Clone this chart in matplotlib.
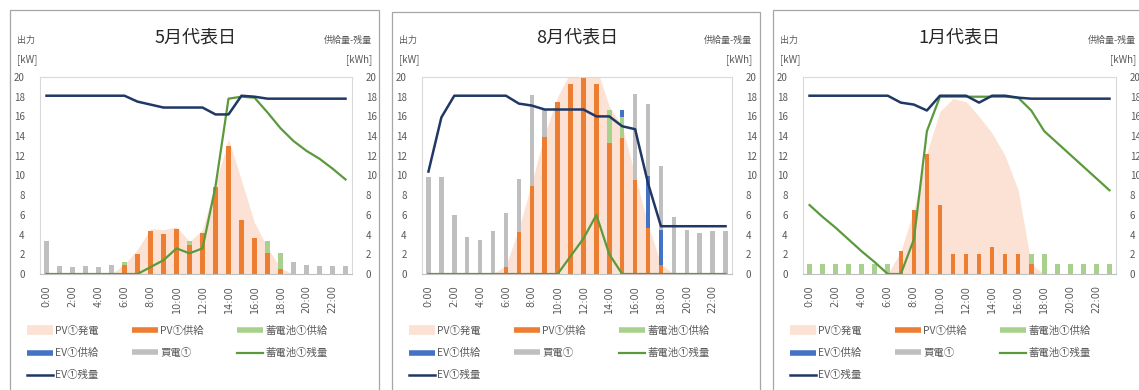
import matplotlib
matplotlib.use('Agg')

import matplotlib.pyplot as plt
import numpy as np
from matplotlib.lines import Line2D
from matplotlib.patches import Rectangle

plt.rcParams['font.family'] = ['Noto Sans CJK JP', 'DejaVu Sans']

hours = np.arange(24)
hour_labels = [f'{h}:00' for h in range(0, 24, 2)]

# May representative day
may_pv_gen = [0, 0, 0, 0, 0, 0, 1.0, 2.5, 4.6, 4.5, 4.8, 3.3, 4.5, 9.2, 13.7, 9.5, 5.2, 2.7, 0.6, 0, 0, 0, 0, 0]
may_pv_sup = [0, 0, 0, 0, 0, 0, 0.9, 2.0, 4.4, 4.1, 4.6, 2.9, 4.2, 8.8, 13.0, 5.5, 3.7, 2.1, 0.5, 0, 0, 0, 0, 0]
may_batt_sup = [0, 0, 0, 0, 0, 0, 0.3, 0, 0, 0, 0, 0.4, 0, 0, 0, 0, 0, 1.3, 1.6, 0, 0, 0, 0, 0]
may_ev_sup = [0] * 24
may_buy = [3.3, 0.8, 0.7, 0.8, 0.7, 0.9, 0, 0, 0, 0, 0, 0, 0, 0, 0, 0, 0, 0, 0, 1.2, 0.9, 0.8, 0.8, 0.8]
may_batt_level = [0, 0, 0, 0, 0, 0, 0, 0, 0.7, 1.4, 2.6, 2.1, 2.6, 8.9, 17.8, 18.0, 17.9, 16.4, 14.8, 13.5, 12.5, 11.7, 10.7, 9.6]
may_ev_level = [18.1, 18.1, 18.1, 18.1, 18.1, 18.1, 18.1, 17.5, 17.2, 16.9, 16.9, 16.9, 16.9, 16.2, 16.2, 18.1, 18.0, 17.8, 17.8, 17.8, 17.8, 17.8, 17.8, 17.8]

# August representative day
aug_pv_gen = [0, 0, 0, 0, 0, 0, 0.9, 4.6, 9.3, 14.2, 18.0, 20.5, 21.5, 21.0, 17.0, 15.0, 10.0, 5.0, 1.0, 0, 0, 0, 0, 0]
aug_pv_sup = [0, 0, 0, 0, 0, 0, 0.7, 4.3, 8.9, 13.9, 17.5, 19.3, 20.0, 19.3, 13.3, 13.8, 9.5, 4.7, 0.9, 0, 0, 0, 0, 0]
aug_batt_sup = [0, 0, 0, 0, 0, 0, 0, 0, 0, 0, 0, 0, 0, 0, 3.3, 2.1, 0, 0, 0, 0, 0, 0, 0, 0]
aug_ev_sup = [0, 0, 0, 0, 0, 0, 0, 0, 0, 0, 0, 0, 0, 0, 0, 0.8, 0, 5.2, 3.6, 0, 0, 0, 0, 0]
aug_buy = [9.8, 9.8, 6.0, 3.8, 3.5, 4.4, 5.5, 5.3, 9.3, 2.9, 0, 0, 0, 0, 0, 0, 8.8, 7.4, 6.5, 5.8, 4.5, 4.2, 4.4, 4.4]
aug_batt_level = [0, 0, 0, 0, 0, 0, 0, 0, 0, 0, 0, 1.8, 3.6, 6.0, 2.0, 0, 0, 0, 0, 0, 0, 0, 0, 0]
aug_ev_level = [10.4, 15.9, 18.1, 18.1, 18.1, 18.1, 18.1, 17.3, 17.1, 16.7, 16.7, 16.7, 16.7, 16.0, 16.0, 15.0, 14.7, 9.2, 4.85, 4.85, 4.85, 4.85, 4.85, 4.85]

# January representative day
jan_pv_gen = [0, 0, 0, 0, 0, 0, 0, 2.3, 6.5, 12.3, 16.5, 17.8, 17.5, 16.0, 14.3, 12.0, 8.5, 1.0, 0, 0, 0, 0, 0, 0]
jan_pv_sup = [0, 0, 0, 0, 0, 0, 0, 2.3, 6.5, 12.2, 7.0, 2.0, 2.0, 2.0, 2.7, 2.0, 2.0, 1.0, 0, 0, 0, 0, 0, 0]
jan_batt_sup = [1.0, 1.0, 1.0, 1.0, 1.0, 1.0, 1.0, 0, 0, 0, 0, 0, 0, 0, 0, 0, 0, 1.0, 2.0, 1.0, 1.0, 1.0, 1.0, 1.0]
jan_ev_sup = [0] * 24
jan_buy = [0] * 24
jan_batt_level = [7.0, 5.8, 4.7, 3.5, 2.3, 1.2, 0, 0, 3.5, 14.5, 18.0, 18.0, 18.0, 18.0, 18.0, 18.0, 17.9, 16.6, 14.5, 13.3, 12.1, 10.9, 9.7, 8.5]
jan_ev_level = [18.1, 18.1, 18.1, 18.1, 18.1, 18.1, 18.1, 17.4, 17.2, 16.6, 18.1, 18.1, 18.1, 17.4, 18.1, 18.1, 17.9, 17.8, 17.8, 17.8, 17.8, 17.8, 17.8, 17.8]

titles = ['5月代表日', '8月代表日', '1月代表日']

C_GEN = '#FBE2D4'
C_PV = '#ED7D31'
C_BATT = '#A9D18E'
C_EV = '#4472C4'
C_BUY = '#BFBFBF'
C_BATT_LINE = '#5B9A3C'
C_EV_LINE = '#1F3864'
C_TEXT = '#595959'

W, H = 1139, 390
fig = plt.figure(figsize=(W / 100, H / 100), dpi=100)


def px_box(l, t, r, b):
    return [l / W, 1 - b / H, (r - l) / W, (b - t) / H]


def draw_panel(plot_px, frame_px, title, gen, pv, batt, ev, buy, batt_lvl, ev_lvl):
    l, t, r, b = plot_px
    ax = fig.add_axes(px_box(l, t, r, b))
    ax.fill_between(hours, 0, gen, color=C_GEN, lw=0, zorder=1)

    bottom = np.zeros(24)
    for vals, col in [(pv, C_PV), (batt, C_BATT), (ev, C_EV), (buy, C_BUY)]:
        vals = np.array(vals, dtype=float)
        ax.bar(hours, vals, width=0.35, bottom=bottom, color=col, lw=0, zorder=2)
        bottom += vals

    ax.set_xlim(-0.5, 23.5)
    ax.set_ylim(0, 20)
    ax.set_yticks(range(0, 21, 2))
    ax.set_xticks(range(0, 24, 2))
    ax.set_xticklabels(hour_labels, rotation=90, family='DejaVu Sans')
    ax.tick_params(length=0, labelsize=7, colors=C_TEXT)
    ax.tick_params(axis='y', pad=11)
    ax.tick_params(axis='x', pad=8)
    for s in ax.spines.values():
        s.set_color('#D9D9D9')
        s.set_linewidth(0.8)
    ax.spines['bottom'].set_color('#BFBFBF')

    ax2 = ax.twinx()
    ax2.plot(hours, batt_lvl, color=C_BATT_LINE, lw=1.6, zorder=3)
    ax2.plot(hours, ev_lvl, color=C_EV_LINE, lw=1.8, zorder=4)
    ax2.set_ylim(0, 20)
    ax2.set_yticks(range(0, 21, 2))
    ax2.tick_params(length=0, labelsize=7, colors=C_TEXT, pad=10)
    for s in ax2.spines.values():
        s.set_visible(False)

    # panel frame
    fl, ft, fr, fb = frame_px
    fig.patches.append(Rectangle((fl / W, 1 - fb / H), (fr - fl) / W, (fb - ft) / H,
                                 transform=fig.transFigure, fill=False,
                                 ec='#A6A6A6', lw=0.9))

    fig.text((l + r) / 2 / W, 1 - 37 / H, title, ha='center', va='center',
             fontsize=13, color='#262626')
    fig.text((l - 23) / W, 1 - 40 / H, '出力', ha='left', va='center', fontsize=6.5, color=C_TEXT)
    fig.text((l - 23) / W, 1 - 60 / H, '[kW]', ha='left', va='center', fontsize=7, color=C_TEXT)
    fig.text((r + 20) / W, 1 - 40 / H, '供給量-残量', ha='right', va='center', fontsize=6.5, color=C_TEXT)
    fig.text((r + 20) / W, 1 - 60 / H, '[kWh]', ha='right', va='center', fontsize=7, color=C_TEXT)

    handles = [
        Line2D([], [], color=C_GEN, lw=7, solid_capstyle='butt'),
        Line2D([], [], color=C_EV, lw=4, solid_capstyle='butt'),
        Line2D([], [], color=C_EV_LINE, lw=1.8),
        Line2D([], [], color=C_PV, lw=4, solid_capstyle='butt'),
        Line2D([], [], color=C_BUY, lw=4, solid_capstyle='butt'),
        Line2D([], [], color=C_BATT, lw=4, solid_capstyle='butt'),
        Line2D([], [], color=C_BATT_LINE, lw=1.6),
    ]
    labels = ['PV①発電', 'EV①供給', 'EV①残量', 'PV①供給', '買電①', '蓄電池①供給', '蓄電池①残量']
    fig.legend(handles, labels, ncol=3, loc='upper left',
               bbox_to_anchor=((l - 13) / W, 1 - 326 / H),
               frameon=False, fontsize=7.5, labelcolor=C_TEXT,
               handlelength=2.5, handletextpad=0.2, columnspacing=3.2,
               labelspacing=1.15, borderpad=0, borderaxespad=0)


draw_panel((40, 77, 352, 274), (10, 10, 379, 400), titles[0],
           may_pv_gen, may_pv_sup, may_batt_sup, may_ev_sup, may_buy, may_batt_level, may_ev_level)
draw_panel((422, 77, 732, 274), (392, 12, 760, 400), titles[1],
           aug_pv_gen, aug_pv_sup, aug_batt_sup, aug_ev_sup, aug_buy, aug_batt_level, aug_ev_level)
draw_panel((803, 77, 1116, 274), (773, 10, 1150, 400), titles[2],
           jan_pv_gen, jan_pv_sup, jan_batt_sup, jan_ev_sup, jan_buy, jan_batt_level, jan_ev_level)

fig.savefig('out.png', dpi=100)
